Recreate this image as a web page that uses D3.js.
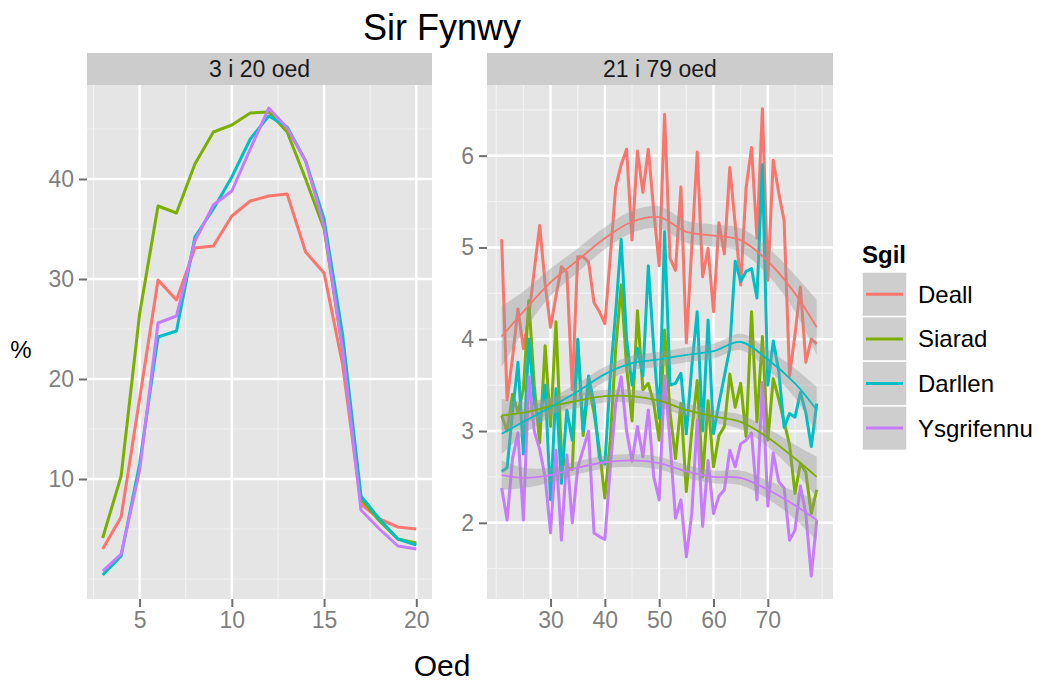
<!DOCTYPE html>
<html><head><meta charset="utf-8">
<script src="https://cdn.jsdelivr.net/npm/d3@7"></script>
<style>
html,body{margin:0;padding:0;background:#fff;}
svg text{font-family:"Liberation Sans",Arial,Helvetica,sans-serif;}
</style></head>
<body>
<svg id="chart" width="1041" height="683"></svg>
<script>
// ---------- DATA ----------
const seriesNames = ["Deall", "Siarad", "Darllen", "Ysgrifennu"];
const seriesColors = ["#F8766D", "#7CAE00", "#00BFC4", "#C77CFF"];
const facetLabels = ["3 i 20 oed", "21 i 79 oed"];

const leftAges = [3,4,5,6,7,8,9,10,11,12,13,14,15,16,17,18,19,20];
const leftDeall      = [3.0,6.2,18.0,29.9,27.9,33.1,33.3,36.3,37.8,38.3,38.5,32.7,30.6,21.5,7.5,6.0,5.2,5.0];
const leftSiarad     = [4.1,10.3,26.5,37.3,36.6,41.5,44.7,45.4,46.6,46.7,44.7,40.0,35.0,23.0,8.0,5.8,4.0,3.6];
const leftDarllen    = [0.4,2.3,11.5,24.2,24.8,34.2,37.0,40.2,44.0,46.3,45.2,41.8,36.0,24.5,8.3,6.0,4.0,3.4];
const leftYsgrifennu = [0.8,2.5,10.8,25.6,26.3,33.8,37.4,38.8,43.0,47.1,45.1,41.8,35.3,23.0,6.9,5.0,3.3,3.0];

const rightAges = [21,22,23,24,25,26,27,28,29,30,31,32,33,34,35,36,37,38,39,40,41,42,43,44,45,46,47,48,49,50,
                   51,52,53,54,55,56,57,58,59,60,61,62,63,64,65,66,67,68,69,70,71,72,73,74,75,76,77,78,79];
const rightDeall = [5.09,3.34,3.8,4.33,3.9,4.25,4.75,5.24,4.6,4.13,4.47,4.79,4.73,3.45,4.9,4.9,4.84,4.4,4.3,4.17,
                    4.9,5.66,5.9,6.07,5.08,6.05,5.6,6.07,5.4,4.8,6.45,4.88,4.75,5.66,3.96,5.0,6.04,4.68,4.99,4.3,
                    5.27,4.93,5.87,5.25,4.59,5.65,6.09,5.1,6.51,4.64,5.95,5.6,5.29,3.6,4.05,4.57,3.75,4.0,3.95];
const rightSiarad = [3.17,3.0,3.4,3.2,3.45,4.42,3.5,2.87,3.93,3.05,4.19,2.75,2.6,2.58,3.99,2.95,3.5,3.2,2.8,2.27,
                     2.9,3.9,4.59,3.7,3.11,4.31,3.45,3.52,3.3,2.9,4.1,3.2,2.7,3.3,2.34,3.0,3.55,2.5,3.33,2.61,
                     2.95,3.05,3.62,3.26,3.52,2.94,4.3,3.1,4.03,2.9,3.57,3.35,3.1,2.85,2.32,2.65,2.55,2.1,2.36];
const rightDarllen = [2.56,2.6,3.2,3.75,2.75,4.0,3.3,3.1,3.5,2.25,3.46,2.43,3.23,2.9,4.0,3.0,3.6,3.3,2.7,2.64,
                      3.6,4.3,5.09,4.0,3.5,3.9,3.6,4.8,3.9,3.14,5.17,3.5,3.52,3.63,2.97,3.7,4.3,3.0,4.21,2.97,
                      3.3,3.6,3.9,4.85,4.63,4.74,4.77,4.45,5.9,3.5,3.98,3.66,3.04,3.19,3.15,3.42,3.2,2.83,3.3];
const rightYsgrifennu = [2.38,2.03,2.7,2.98,2.03,3.59,3.0,2.8,2.5,1.89,2.79,1.81,2.74,2.0,2.6,2.8,3.0,1.89,1.85,1.82,
                         2.6,3.3,3.59,3.0,2.67,3.05,2.72,3.23,2.5,2.25,3.6,2.88,2.05,2.25,1.63,2.1,3.12,1.96,2.68,2.1,
                         2.29,2.36,2.79,2.61,2.86,2.9,2.98,2.25,3.53,2.18,2.76,2.45,2.38,1.81,1.92,2.4,2.1,1.42,2.03];

// smoothed (loess) curves, at knot ages
const smoothAges = [21,25,30,35,40,45,50,55,60,65,70,75,79];
const smoothDeall      = [4.03,4.30,4.62,4.86,5.10,5.28,5.33,5.17,5.13,5.08,4.85,4.50,4.13];
const smoothSiarad     = [3.17,3.20,3.27,3.33,3.38,3.38,3.33,3.23,3.16,3.10,2.93,2.70,2.50];
const smoothDarllen    = [2.97,3.10,3.26,3.43,3.62,3.74,3.78,3.83,3.87,3.97,3.78,3.52,3.23];
const smoothYsgrifennu = [2.52,2.49,2.52,2.60,2.66,2.68,2.65,2.56,2.50,2.49,2.36,2.19,2.03];
// half-widths of the confidence ribbons
const seDeall      = [0.33,0.22,0.15,0.13,0.12,0.12,0.12,0.12,0.12,0.13,0.15,0.20,0.30];
const seSiarad     = [0.18,0.12,0.09,0.08,0.07,0.07,0.07,0.07,0.07,0.08,0.10,0.15,0.22];
const seDarllen    = [0.22,0.14,0.10,0.09,0.08,0.08,0.08,0.08,0.08,0.09,0.11,0.16,0.25];
const seYsgrifennu = [0.16,0.11,0.08,0.07,0.07,0.07,0.07,0.07,0.07,0.08,0.10,0.15,0.22];

// axis breaks
const leftXTicks = [5,10,15,20];
const leftXMinor = [2.5,7.5,12.5,17.5];
const leftYTicks = [10,20,30,40];
const leftYMinor = [0,5,15,25,35,45];
const rightXTicks = [30,40,50,60,70];
const rightXMinor = [20,25,35,45,55,65,75,80];
const rightYTicks = [2,3,4,5,6];
const rightYMinor = [1.5,2.5,3.5,4.5,5.5,6.5];

// ---------- LAYOUT ----------
const svg = d3.select("#chart");
const pTop = 85, pBottom = 599, stripTop = 53;
const xL = d3.scaleLinear().domain([2.15, 20.85]).range([87, 432]);
const yL = d3.scaleLinear().domain([-2, 49.4]).range([pBottom, pTop]);
const xR = d3.scaleLinear().domain([18.3, 82]).range([487, 833]);
const yR = d3.scaleLinear().domain([1.17, 6.77]).range([pBottom, pTop]);

const leftSeries = [leftDeall, leftSiarad, leftDarllen, leftYsgrifennu];
const rightSeries = [rightDeall, rightSiarad, rightDarllen, rightYsgrifennu];
const smoothSeries = [smoothDeall, smoothSiarad, smoothDarllen, smoothYsgrifennu];
const seSeries = [seDeall, seSiarad, seDarllen, seYsgrifennu];

function panel(x, y, xT, xM, yT, yM, label) {
  const [x0, x1] = x.range();
  const g = svg.append("g");
  g.append("rect").attr("x", x0).attr("y", pTop).attr("width", x1 - x0).attr("height", pBottom - pTop).attr("fill", "#E5E5E5");
  g.selectAll(".mx").data(xM).enter().append("line")
    .attr("x1", d => x(d)).attr("x2", d => x(d)).attr("y1", pTop).attr("y2", pBottom)
    .attr("stroke", "#F2F2F2").attr("stroke-width", 1.2);
  g.selectAll(".my").data(yM).enter().append("line")
    .attr("y1", d => y(d)).attr("y2", d => y(d)).attr("x1", x0).attr("x2", x1)
    .attr("stroke", "#F2F2F2").attr("stroke-width", 1.2);
  g.selectAll(".Mx").data(xT).enter().append("line")
    .attr("x1", d => x(d)).attr("x2", d => x(d)).attr("y1", pTop).attr("y2", pBottom)
    .attr("stroke", "#FFFFFF").attr("stroke-width", 2.4);
  g.selectAll(".My").data(yT).enter().append("line")
    .attr("y1", d => y(d)).attr("y2", d => y(d)).attr("x1", x0).attr("x2", x1)
    .attr("stroke", "#FFFFFF").attr("stroke-width", 2.4);
  g.append("rect").attr("x", x0).attr("y", stripTop).attr("width", x1 - x0).attr("height", pTop - stripTop).attr("fill", "#CCCCCC");
  g.append("text").attr("x", (x0 + x1) / 2).attr("y", (stripTop + pTop) / 2 + 8)
    .attr("text-anchor", "middle").attr("font-size", 23).attr("fill", "#1A1A1A").text(label);
  const ax = svg.append("g").attr("transform", `translate(0,${pBottom})`)
    .call(d3.axisBottom(x).tickValues(xT).tickSize(8).tickPadding(5).tickFormat(d3.format("d")));
  const ay = svg.append("g").attr("transform", `translate(${x0},0)`)
    .call(d3.axisLeft(y).tickValues(yT).tickSize(8).tickPadding(5).tickFormat(d3.format("d")));
  [ax, ay].forEach(a => {
    a.select(".domain").remove();
    a.selectAll(".tick line").attr("stroke", "#6F6F6F").attr("stroke-width", 2);
    a.selectAll(".tick text").attr("font-size", 23).attr("fill", "#7F7F7F")
      .attr("font-family", "Liberation Sans, Arial, sans-serif");
  });
}

panel(xL, yL, leftXTicks, leftXMinor, leftYTicks, leftYMinor, facetLabels[0]);
panel(xR, yR, rightXTicks, rightXMinor, rightYTicks, rightYMinor, facetLabels[1]);

leftSeries.forEach((vals, i) => {
  const line = d3.line().x((d, j) => xL(leftAges[j])).y(d => yL(d));
  svg.append("path").attr("d", line(vals)).attr("fill", "none")
    .attr("stroke", seriesColors[i]).attr("stroke-width", 3).attr("stroke-linejoin", "round");
});
rightSeries.forEach((vals, i) => {
  const line = d3.line().x((d, j) => xR(rightAges[j])).y(d => yR(d));
  svg.append("path").attr("d", line(vals)).attr("fill", "none")
    .attr("stroke", seriesColors[i]).attr("stroke-width", 3).attr("stroke-linejoin", "round");
});
smoothSeries.forEach((vals, i) => {
  const se = seSeries[i];
  const area = d3.area().curve(d3.curveCatmullRom)
    .x((d, j) => xR(smoothAges[j])).y0((d, j) => yR(d - se[j])).y1((d, j) => yR(d + se[j]));
  svg.append("path").attr("d", area(vals)).attr("fill", "#999999").attr("fill-opacity", 0.4);
});
smoothSeries.forEach((vals, i) => {
  const line = d3.line().curve(d3.curveCatmullRom).x((d, j) => xR(smoothAges[j])).y(d => yR(d));
  svg.append("path").attr("d", line(vals)).attr("fill", "none")
    .attr("stroke", seriesColors[i]).attr("stroke-width", 1.8);
});

svg.append("text").attr("x", 442).attr("y", 40).attr("text-anchor", "middle")
  .attr("font-size", 36).attr("fill", "#000").text("Sir Fynwy");
svg.append("text").attr("x", 442).attr("y", 676).attr("text-anchor", "middle")
  .attr("font-size", 30).attr("fill", "#000").text("Oed");
svg.append("text").attr("x", 21).attr("y", 358).attr("text-anchor", "middle")
  .attr("font-size", 24).attr("fill", "#000").text("%");

const lg = svg.append("g");
lg.append("text").attr("x", 862).attr("y", 263).attr("font-size", 24).attr("font-weight", "bold").attr("fill", "#000").text("Sgil");
const keyH = 44.6, keyTop = 272, keyX = 862, keyW = 45;
seriesNames.forEach((name, i) => {
  const yy = keyTop + i * keyH;
  lg.append("rect").attr("x", keyX).attr("y", yy).attr("width", keyW).attr("height", keyH)
    .attr("fill", "#CECECE").attr("stroke", "#FFFFFF").attr("stroke-width", 1.5);
  lg.append("line").attr("x1", keyX + 4).attr("x2", keyX + keyW - 4)
    .attr("y1", yy + keyH / 2).attr("y2", yy + keyH / 2)
    .attr("stroke", seriesColors[i]).attr("stroke-width", 3);
  lg.append("text").attr("x", 918).attr("y", yy + keyH / 2 + 8.5).attr("font-size", 24).attr("fill", "#000").text(name);
});
</script>
</body></html>
